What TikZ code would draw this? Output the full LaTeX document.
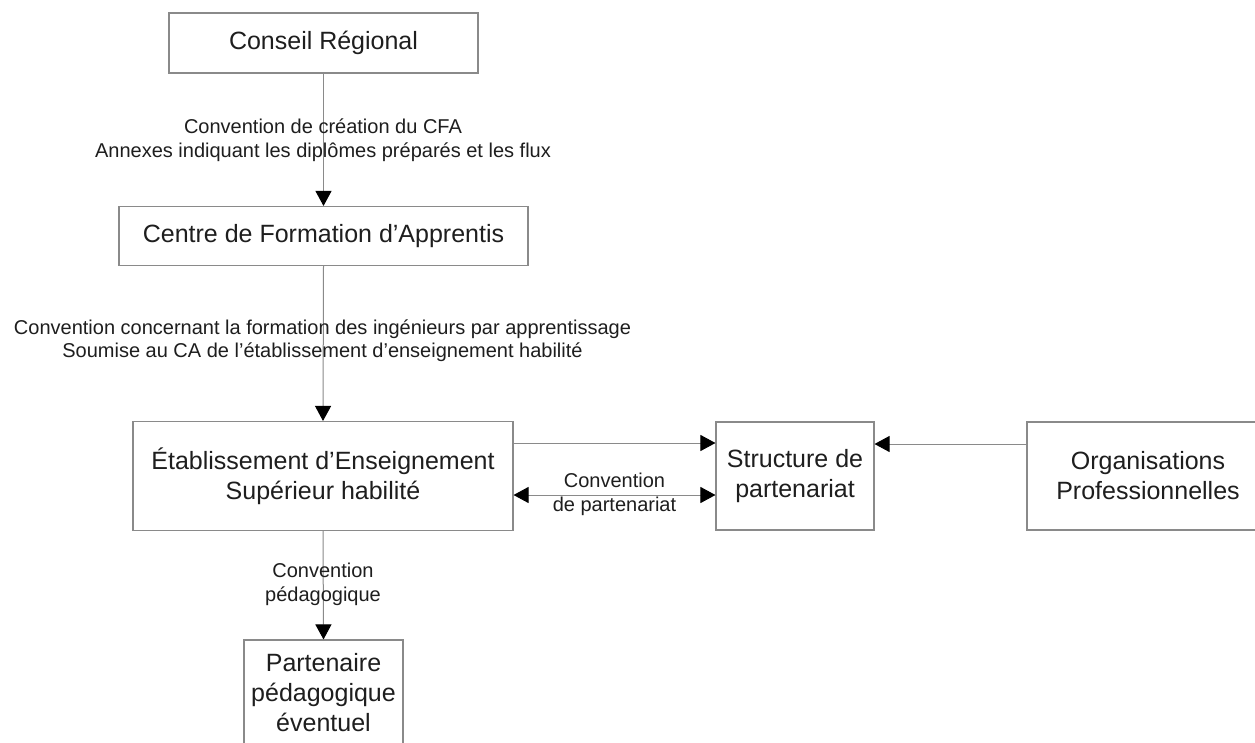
\documentclass[tikz,border=0pt]{standalone}
\usepackage{fontspec}
\setmainfont{Liberation Sans}
\usetikzlibrary{arrows.meta}
\definecolor{linegray}{HTML}{8A8A8A}
\definecolor{txt}{HTML}{1E1E1E}
\tikzset{
  boxnode/.style={draw=linegray, line width=1.1pt, inner sep=0pt, align=center,
    text=txt, font=\fontsize{25}{30}\selectfont},
  lbl/.style={inner sep=0pt, align=center, text=txt, font=\fontsize{20}{23.5}\selectfont},
  arr/.style={draw=linegray, line width=1pt, -{Triangle[length=15pt,width=16pt,fill=black,color=black]}},
  darr/.style={draw=linegray, line width=1pt, {Triangle[length=15pt,width=16pt,fill=black,color=black]}-{Triangle[length=15pt,width=16pt,fill=black,color=black]}}
}
\begin{document}
\begin{tikzpicture}[x=1pt,y=-1pt]
\useasboundingbox[fill=white] (0,0) rectangle (1255,742);
\clip (0,0) rectangle (1255,742);
\node[boxnode, minimum width=309pt, minimum height=60pt] (conseil) at (323.5,43) {Conseil Régional};
\node[boxnode, minimum width=409pt, minimum height=59pt] (cfa) at (323.5,236) {Centre de Formation d’Apprentis};
\node[boxnode, minimum width=380pt, minimum height=109pt] (etab) at (323,476) {Établissement d’Enseignement\\Supérieur habilité};
\node[boxnode, minimum width=158pt, minimum height=108pt] (struct) at (795,476) {Structure de\\partenariat};
\node[boxnode, minimum width=242pt, minimum height=108pt] (org) at (1148,476) {Organisations\\Professionnelles};
\node[boxnode, minimum width=159pt, minimum height=106pt] (part) at (323.5,693) {Partenaire\\pédagogique\\éventuel};

\draw[arr] (conseil.south) -- (cfa.north);
\draw[arr] (cfa.south) -- (etab.north);
\draw[arr] (etab.south) -- (part.north);
\draw[arr] ([yshift=33pt]etab.east) -- ([yshift=33pt]struct.west);
\draw[darr] ([yshift=-19pt]etab.east) -- ([yshift=-19pt]struct.west);
\draw[arr] ([yshift=32pt]org.west) -- ([yshift=32pt]struct.east);

\node[lbl] (l1) at (323,140) {Convention de création du CFA\\Annexes indiquant les diplômes préparés et les flux};
\node[lbl] (l2) at (322.5,340.5) {Convention concernant la formation des ingénieurs par apprentissage\\Soumise au CA de l’établissement d’enseignement habilité};
\node[lbl] (l3) at (614.5,494.5) {Convention\\de partenariat};
\node[lbl] (l4) at (323,584.5) {Convention\\pédagogique};
\end{tikzpicture}
\end{document}
